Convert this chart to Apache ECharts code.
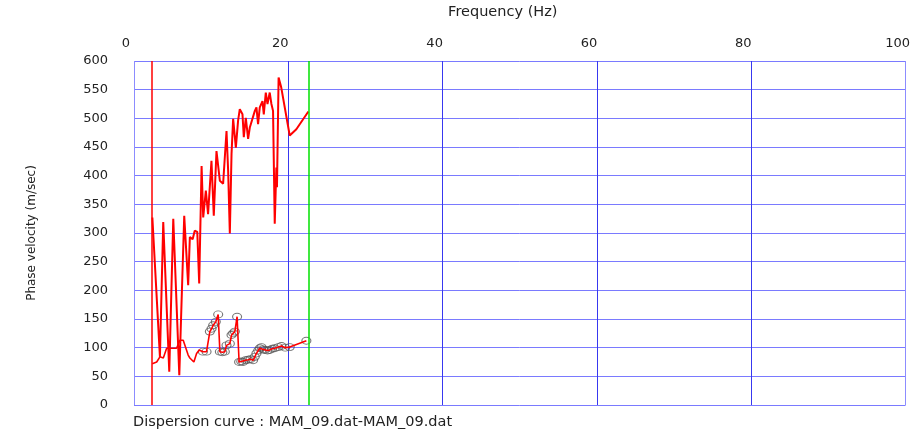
<!DOCTYPE html>
<html>
<head>
<meta charset="utf-8">
<script src="https://cdn.jsdelivr.net/npm/echarts@6/dist/echarts.min.js"></script>
<style>
  html, body { margin: 0; padding: 0; background: #fff; }
  #main { width: 913px; height: 431px; }
</style>
</head>
<body>
<div id="main"></div>
<script>
// upper (noisy) dispersion trace
var upperFreq = [2.38, 3.36, 3.79, 4.57, 5.09, 5.87, 6.51, 7.02, 7.24, 7.6, 7.87, 8.2, 8.45, 8.76, 8.97, 9.31, 9.6, 10.04, 10.34, 10.69, 11.13, 11.55, 11.99, 12.2, 12.42, 12.64, 12.85, 13.2, 13.49, 13.71, 14.06, 14.23, 14.49, 14.79, 15.01, 15.66, 15.87, 16.08, 16.3, 16.65, 16.82, 17.08, 17.3, 17.59, 17.81, 18.02, 18.24, 18.45, 18.53, 18.74, 19.08, 20.18, 21.04, 22.6];
var upperVel = [327, 84, 319, 58, 325, 52, 330, 209, 293, 289, 304, 302, 212, 417, 327, 374, 333, 426, 330, 443, 391, 386, 478, 409, 299, 438, 499, 449, 496, 516, 507, 467, 501, 464, 484, 513, 519, 490, 519, 530, 507, 545, 525, 545, 525, 513, 316, 414, 380, 571, 554, 470, 481, 512];

// lower trace, picked points shown with circles from index pickStart
var lowFreq = [2.37, 2.94, 3.36, 3.8, 4.23, 5.52, 5.95, 6.38, 7.02, 7.24, 7.76, 8.11, 8.45, 8.54, 8.93, 9.4, 9.83, 10.05, 10.26, 10.6, 10.91, 11.13, 11.45, 11.77, 11.99, 12.42, 12.64, 12.85, 13.07, 13.36, 13.62, 13.9, 14.14, 14.45, 14.79, 15.1, 15.43, 15.65, 15.87, 16.1, 16.3, 16.52, 16.75, 16.95, 17.3, 17.59, 17.9, 18.24, 18.7, 19.11, 19.6, 20.18, 22.34];
var lowVel = [72, 75, 84, 82, 99, 99, 113, 113, 87, 82, 75, 90, 96, 99, 93, 93, 128, 133, 139, 145, 158, 93, 92, 93, 104, 107, 122, 125, 128, 154, 75, 76, 75, 78, 79, 80, 78, 84, 90, 95, 99, 101, 97, 96, 95, 96, 98, 99, 101, 103, 100, 101, 112];
var pickStart = 14;

var xTicks = [0, 20, 40, 60, 80, 100];
var lowCut = 2.33;
var highCut = 22.64;

var upperData = upperFreq.map(function(f, i){ return [f, upperVel[i]]; });
var lowData = lowFreq.map(function(f, i){ return [f, lowVel[i]]; });
var pickData = lowData.slice(pickStart);

var font = 'DejaVu Sans';
var myChart = echarts.init(document.getElementById('main'));
var option = {
    animation: false,
    backgroundColor: '#fff',
    grid: { left: 134, right: 6, top: 60, bottom: 26 },
    title: {
        text: 'Dispersion curve : MAM_09.dat-MAM_09.dat',
        left: 128, top: 410,
        textStyle: { fontFamily: font, fontSize: 14.5, fontWeight: 'normal', color: '#222' }
    },
    xAxis: {
        type: 'value', position: 'top',
        min: xTicks[0], max: xTicks[xTicks.length - 1], interval: 20,
        name: 'Frequency (Hz)', nameLocation: 'middle', nameGap: 41,
        nameTextStyle: { fontFamily: font, fontSize: 14.5, color: '#222', padding: [0, 34, 0, 0] },
        axisLine: { show: false }, axisTick: { show: false },
        axisLabel: { fontFamily: font, fontSize: 13, color: '#222', margin: 11, padding: [0, 16, 0, 0] },
        splitLine: { lineStyle: { width: 1, color: ['#8c8cff', '#3838f0', '#3838f0', '#3838f0', '#3838f0', '#8c8cff'] } }
    },
    yAxis: {
        type: 'value', min: 0, max: 600, interval: 50,
        name: 'Phase velocity (m/sec)', nameLocation: 'middle', nameGap: 96,
        nameTextStyle: { fontFamily: font, fontSize: 12, color: '#222' },
        axisLine: { show: false }, axisTick: { show: false },
        axisLabel: { fontFamily: font, fontSize: 13, color: '#222', margin: 26, padding: [0, 0, 8, 0] },
        splitLine: { lineStyle: { width: 1, color: '#7a7aff' } }
    },
    series: [{
        name: 'upper',
        type: 'line',
        data: upperData,
        showSymbol: false,
        lineStyle: { color: '#ff0000', width: 2 },
        markLine: {
            silent: true, symbol: 'none', label: { show: false },
            data: [
                { xAxis: lowCut, lineStyle: { color: '#ff0000', width: 1.5, type: 'solid' } },
                { xAxis: highCut, lineStyle: { color: '#00e000', width: 1.5, type: 'solid' } }
            ]
        }
    }, {
        name: 'lower',
        type: 'line',
        data: lowData,
        showSymbol: false,
        lineStyle: { color: '#ff0000', width: 1.6 }
    }, {
        name: 'picks',
        type: 'scatter',
        data: pickData,
        symbol: 'circle',
        symbolSize: [9, 7],
        itemStyle: { color: 'rgba(0,0,0,0)', borderColor: '#555', borderWidth: 1 }
    }]
};
myChart.setOption(option);
</script>
</body>
</html>
